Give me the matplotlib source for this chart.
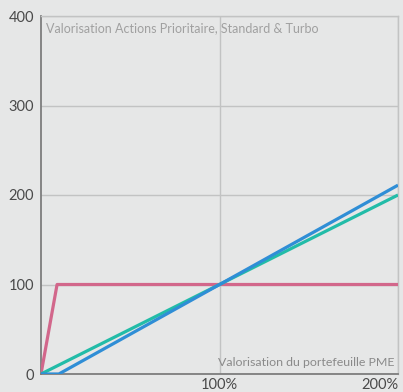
import matplotlib
matplotlib.use("Agg")
import matplotlib.pyplot as plt

# Portfolio valuation (% of initial) vs share valuation
x_prioritaire = [0, 9, 200]
y_prioritaire = [0, 100, 100]

x_standard = [0, 200]
y_standard = [0, 200]

x_turbo = [0, 10, 200]
y_turbo = [0, 0, 211]

y_ticks = [0, 100, 200, 300, 400]
x_ticks = [100, 200]
x_tick_labels = ["100%", "200%"]

bg = "#e6e7e7"
plt.rcParams["font.family"] = ["Lato", "DejaVu Sans"]

fig = plt.figure(figsize=(4.03, 3.92), dpi=100, facecolor=bg)
ax = fig.add_axes([41 / 403, 1 - 374 / 392, 357 / 403, 358 / 392], facecolor=bg)

ax.plot(x_prioritaire, y_prioritaire, color="#d2678b", lw=2.3, solid_capstyle="butt", zorder=3)
ax.plot(x_standard, y_standard, color="#22bca8", lw=2.3, solid_capstyle="butt", zorder=3)
ax.plot(x_turbo, y_turbo, color="#2f8ed6", lw=2.3, solid_capstyle="butt", zorder=4)

ax.set_xlim(0, 200)
ax.set_ylim(0, 400)
ax.set_yticks(y_ticks)
ax.set_xticks(x_ticks)
ax.set_xticklabels(x_tick_labels)
ax.get_xticklabels()[-1].set_horizontalalignment("right")

ax.grid(True, color="#c2c3c3", lw=1)
ax.set_axisbelow(True)

for side in ("top", "right"):
    ax.spines[side].set_color("#c2c3c3")
    ax.spines[side].set_linewidth(1)
for side in ("left", "bottom"):
    ax.spines[side].set_color("#7d7d7d")
    ax.spines[side].set_linewidth(1.3)

ax.tick_params(length=0, colors="#4a4a4a", labelsize=10.5)
ax.tick_params(axis="y", pad=5)
ax.tick_params(axis="x", pad=3)

ax.text(0.015, 0.983, "Valorisation Actions Prioritaire, Standard & Turbo",
        transform=ax.transAxes, ha="left", va="top", fontsize=9, color="#a0a0a0")
ax.text(0.99, 0.017, "Valorisation du portefeuille PME",
        transform=ax.transAxes, ha="right", va="bottom", fontsize=8.9, color="#8a8a8a")

fig.savefig("out.png", dpi=100, facecolor=bg)
